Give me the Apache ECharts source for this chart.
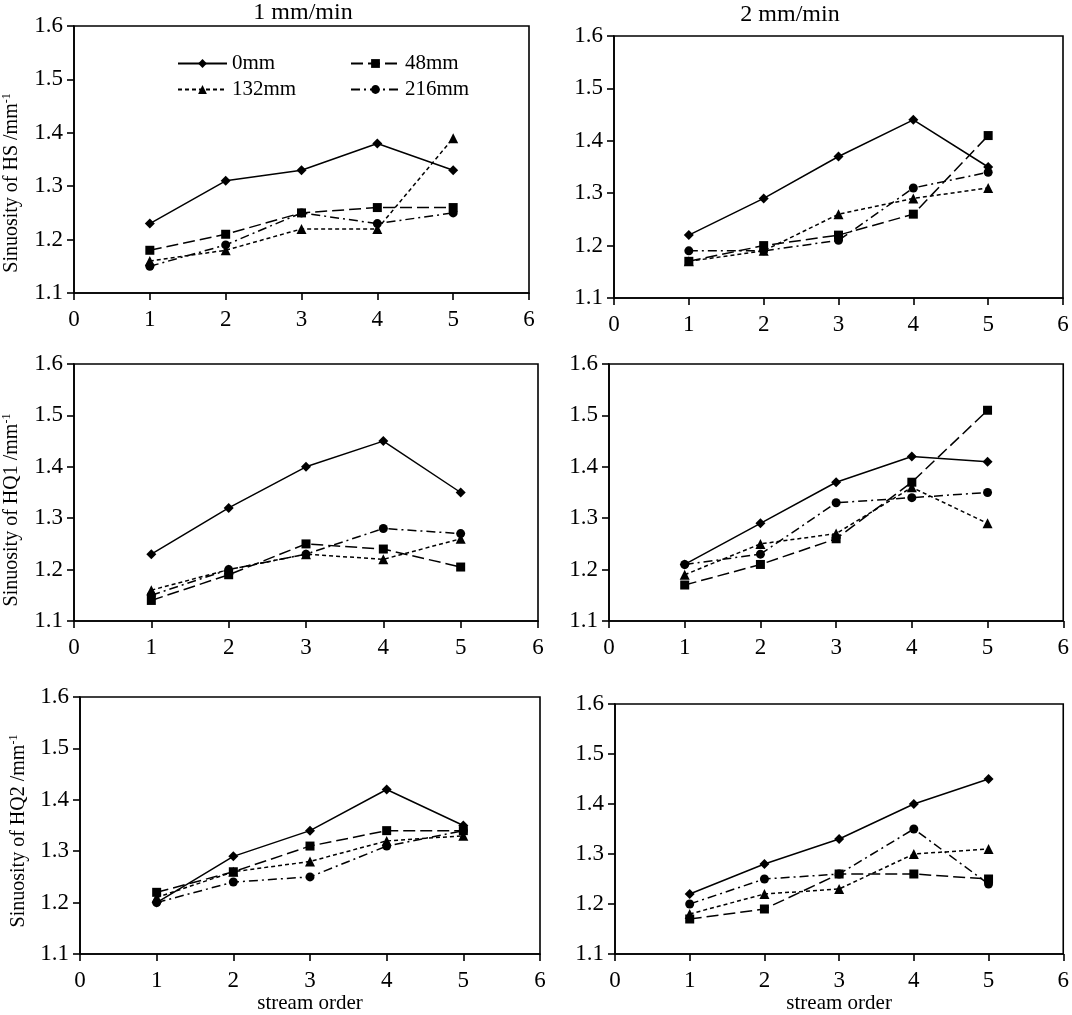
<!DOCTYPE html>
<html>
<head>
<meta charset="utf-8">
<script src="https://cdn.jsdelivr.net/npm/echarts@6/dist/echarts.min.js"></script>
<style>
  html, body { margin: 0; padding: 0; background: #fff; }
  #chart { width: 1072px; height: 1015px; }
</style>
</head>
<body>
<div id="chart"></div>
<script>
// stream orders on the x axis
const orders = [1, 2, 3, 4, 5]
const names = ['0mm', '48mm', '132mm', '216mm']
const yTicks = [1.1, 1.6, 0.1] // min, max, step
const xTicks = [0, 6, 1]

// values per panel, one row per series (0mm, 48mm, 132mm, 216mm)
const hs1 = [
    [1.23, 1.31, 1.33, 1.38, 1.33],
    [1.18, 1.21, 1.25, 1.26, 1.26],
    [1.16, 1.18, 1.22, 1.22, 1.39],
    [1.15, 1.19, 1.25, 1.23, 1.25]
]
const hs2 = [
    [1.22, 1.29, 1.37, 1.44, 1.35],
    [1.17, 1.20, 1.22, 1.26, 1.41],
    [1.17, 1.19, 1.26, 1.29, 1.31],
    [1.19, 1.19, 1.21, 1.31, 1.34]
]
const hq1a = [
    [1.23, 1.32, 1.40, 1.45, 1.35],
    [1.14, 1.19, 1.25, 1.24, 1.205],
    [1.16, 1.20, 1.23, 1.22, 1.26],
    [1.15, 1.20, 1.23, 1.28, 1.27]
]
const hq1b = [
    [1.21, 1.29, 1.37, 1.42, 1.41],
    [1.17, 1.21, 1.26, 1.37, 1.51],
    [1.19, 1.25, 1.27, 1.36, 1.29],
    [1.21, 1.23, 1.33, 1.34, 1.35]
]
const hq2a = [
    [1.20, 1.29, 1.34, 1.42, 1.35],
    [1.22, 1.26, 1.31, 1.34, 1.34],
    [1.21, 1.26, 1.28, 1.32, 1.33],
    [1.20, 1.24, 1.25, 1.31, 1.34]
]
const hq2b = [
    [1.22, 1.28, 1.33, 1.40, 1.45],
    [1.17, 1.19, 1.26, 1.26, 1.25],
    [1.18, 1.22, 1.23, 1.30, 1.31],
    [1.20, 1.25, 1.26, 1.35, 1.24]
]

const panels = [hs1, hs2, hq1a, hq1b, hq2a, hq2b]

const FONT = "'Liberation Serif', 'Times New Roman', serif"

// grid boxes in px
const grids = [
    { left: 74, top: 26, width: 455, height: 267 },
    { left: 614, top: 36, width: 449, height: 262 },
    { left: 74, top: 364, width: 464, height: 257 },
    { left: 609, top: 364, width: 456, height: 257 },
    { left: 80, top: 697, width: 460, height: 263 },
    { left: 615, top: 704, width: 450, height: 256 }
]

const symbols = ['diamond', 'rect', 'triangle', 'circle']
const symbolSizes = [10, 9, 10, 9]
const dashes = ['solid', [12, 5], [4, 3], [9, 4, 2, 4]]

const chart = echarts.init(document.getElementById('chart'))

const xAxes = grids.map((g, i) => ({
    type: 'value',
    gridIndex: i,
    min: xTicks[0],
    max: xTicks[1],
    interval: xTicks[2],
    name: i >= 4 ? 'stream order' : '',
    nameLocation: 'middle',
    nameGap: 39,
    nameTextStyle: { fontFamily: FONT, fontSize: 21, color: '#000' },
    axisLine: { onZero: false, lineStyle: { color: '#000', width: 1.6 } },
    axisTick: { length: 7, lineStyle: { color: '#000', width: 1.6 } },
    axisLabel: { fontFamily: FONT, fontSize: 23, color: '#000', margin: 15 },
    splitLine: { show: false }
}))

const yAxes = grids.map((g, i) => ({
    type: 'value',
    gridIndex: i,
    min: yTicks[0],
    max: yTicks[1],
    interval: yTicks[2],
    axisLine: { lineStyle: { color: '#000', width: 1.6 } },
    axisTick: { length: 7, lineStyle: { color: '#000', width: 1.6 } },
    axisLabel: {
        fontFamily: FONT, fontSize: 23, color: '#000', margin: 11,
        formatter: v => v.toFixed(1)
    },
    splitLine: { show: false }
}))

const series = []
panels.forEach((panel, p) => {
    panel.forEach((vals, s) => {
        series.push({
            name: names[s],
            type: 'line',
            xAxisIndex: p,
            yAxisIndex: p,
            data: orders.map((o, k) => [o, vals[k]]),
            symbol: symbols[s],
            symbolSize: symbolSizes[s],
            itemStyle: { color: '#000' },
            lineStyle: { color: '#000', width: 1.5, type: dashes[s] },
            z: 10 - s
        })
    })
})

// legend sits in the first panel, two rows of two
const legendPos = [
    { left: 172, top: 48 },
    { left: 345, top: 48 },
    { left: 172, top: 74 },
    { left: 345, top: 74 }
]
const legends = names.map((n, i) => ({
    data: [n],
    left: legendPos[i].left,
    top: legendPos[i].top,
    itemWidth: 49,
    itemHeight: 11,
    selectedMode: false,
    textStyle: { fontFamily: FONT, fontSize: 21, color: '#000' }
}))

const yName = (label, x, y) => ({
    type: 'text',
    x: x,
    y: y,
    rotation: Math.PI / 2,
    style: {
        text: label + '{sup|-1}',
        fontFamily: FONT,
        fontSize: 20,
        lineHeight: 22,
        fill: '#000',
        align: 'center',
        verticalAlign: 'middle',
        rich: {
            sup: { fontFamily: FONT, fontSize: 12, lineHeight: 12, verticalAlign: 'top', fill: '#000' }
        }
    }
})

const titleText = (label, x, y) => ({
    type: 'text',
    x: x,
    y: y,
    style: {
        text: label,
        fontFamily: FONT,
        fontSize: 24,
        fill: '#000',
        align: 'center',
        verticalAlign: 'middle'
    }
})

chart.setOption({
    animation: false,
    backgroundColor: '#fff',
    grid: grids.map(g => ({ ...g, show: true, borderColor: '#000', borderWidth: 1.6, backgroundColor: 'transparent' })),
    xAxis: xAxes,
    yAxis: yAxes,
    legend: legends,
    series: series,
    graphic: [
        titleText('1 mm/min', 303, 13),
        titleText('2 mm/min', 790, 15),
        yName('Sinuosity of HS /mm', 12, 183),
        yName('Sinuosity of HQ1 /mm', 12, 510),
        yName('Sinuosity of HQ2 /mm', 19, 831)
    ]
})
</script>
</body>
</html>
